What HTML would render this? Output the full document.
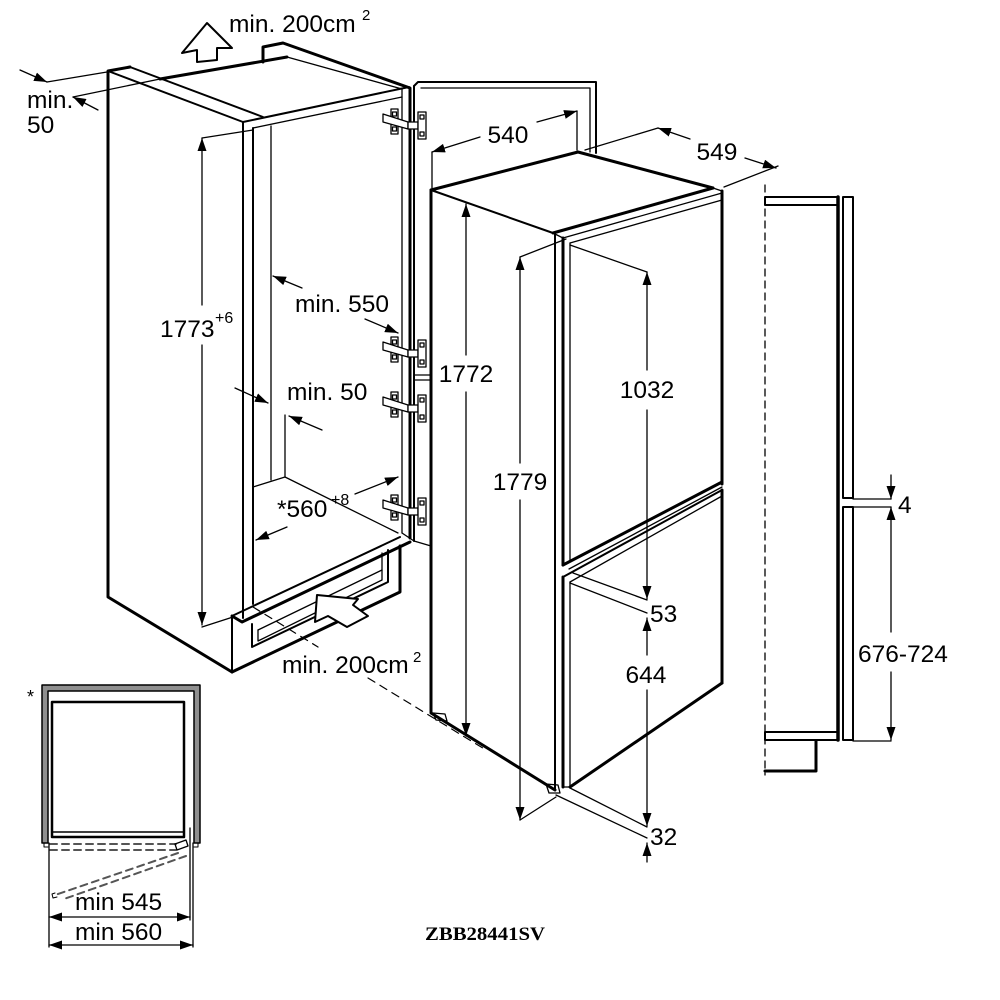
<!DOCTYPE html>
<html><head><meta charset="utf-8"><style>
html,body{margin:0;padding:0;background:#fff;}
svg{display:block}
text{font-family:"Liberation Sans",Arial,sans-serif;fill:#000;stroke:none;font-size:24.5px}
</style></head><body>
<svg width="1000" height="1000" viewBox="0 0 1000 1000" xmlns="http://www.w3.org/2000/svg">
<defs>
<marker id="ar" viewBox="0 0 13 9" refX="13" refY="4.5" markerWidth="13" markerHeight="9" markerUnits="userSpaceOnUse" orient="auto"><path d="M0,0L13,4.5L0,9z" fill="#000" stroke="none"/></marker>
<marker id="as" viewBox="0 0 13 9" refX="13" refY="4.5" markerWidth="13" markerHeight="9" markerUnits="userSpaceOnUse" orient="auto-start-reverse"><path d="M0,0L13,4.5L0,9z" fill="#000" stroke="none"/></marker>
<g id="hg" stroke="#000" stroke-width="1.3" fill="#fff">
<rect x="391" y="-13" width="7" height="25"/>
<rect x="392.5" y="-10" width="4" height="4"/>
<rect x="392.5" y="5" width="4" height="4"/>
<polygon points="383,-8 408,0 408,7 383,0"/>
<rect x="408" y="0" width="10" height="7"/>
<rect x="418" y="-10" width="8" height="27"/>
<rect x="420" y="-7" width="4" height="4"/>
<rect x="420" y="10" width="4" height="4"/>
</g>
</defs>
<rect width="1000" height="1000" fill="#fff"/>
<g fill="none" stroke="#000" stroke-linecap="round" stroke-linejoin="round">

<!-- LEFT CABINET -->
<g stroke-width="3">
<polyline points="130,67 108,71 108,597 232,672"/>
<line x1="160" y1="79" x2="287" y2="57"/>
<polyline points="263,62 263,47 283,43 410,88 410,538"/>
<polyline points="232,672 400,592 400,546"/>
<polyline points="232,616 242,622 410,542"/>
</g>
<g stroke-width="2">
<line x1="108" y1="71" x2="243" y2="122"/>
<line x1="130" y1="67" x2="263" y2="117"/>
<line x1="243" y1="122" x2="409" y2="87"/>
<line x1="243" y1="122" x2="243" y2="618"/>
<line x1="253" y1="128" x2="253" y2="604"/>
<line x1="232" y1="616" x2="232" y2="672"/>
<line x1="232" y1="616" x2="400" y2="537"/>
<polyline points="252,624 252,647 388,582 388,550"/>
<line x1="414" y1="86" x2="414" y2="541"/>
<polyline points="414,86 418,82 596,82 596,153"/>
</g>
<g stroke-width="1.3">
<line x1="253" y1="128" x2="402" y2="97"/>
<line x1="287" y1="57" x2="402" y2="89"/>
<line x1="271" y1="126" x2="271" y2="480"/>
<line x1="402" y1="89" x2="402" y2="533"/>
<polyline points="253,487 285,477 398,533"/>
<line x1="285" y1="415" x2="285" y2="477"/>
<polyline points="258,630 258,641 382,580 382,553"/>
<line x1="258" y1="630" x2="382" y2="570"/>
<polyline points="421,88 590,88 590,152"/>
<line x1="414" y1="375" x2="431" y2="375"/>
<line x1="414" y1="380" x2="431" y2="380"/>
<line x1="402" y1="533" x2="414" y2="541"/>
<line x1="414" y1="541" x2="431" y2="546"/>
</g>

<!-- hinges -->
<use href="#hg" transform="translate(0,122)"/>
<use href="#hg" transform="translate(0,350)"/>
<use href="#hg" transform="translate(0,405)"/>
<use href="#hg" transform="translate(0,508)"/>

<!-- hollow arrows -->
<polygon points="207,23 232,48 217,48 217,60 197,62 197,50 182,53" fill="#fff" stroke-width="2"/>
<polygon points="317,595 358,599 353,605 368,616 347,627 328,616 315,622" fill="#fff" stroke-width="2"/>

<!-- dashed floor line -->
<line x1="253" y1="607" x2="318" y2="647" stroke-width="1.2" stroke-dasharray="8 6"/>
<line x1="368" y1="678" x2="486" y2="750" stroke-width="1.2" stroke-dasharray="8 6"/>

<!-- FRIDGE -->
<g stroke-width="3">
<polyline points="431,190 431,713 555,790"/>
<polyline points="431,190 578,152 713,188"/>
<line x1="553" y1="233" x2="713" y2="188"/>
<line x1="722" y1="191" x2="722" y2="484"/>
<line x1="722" y1="490" x2="722" y2="683"/>
<line x1="563" y1="238" x2="563" y2="565"/>
<line x1="563" y1="565" x2="722" y2="482"/>
<line x1="563" y1="577" x2="563" y2="787"/>
<line x1="570" y1="787" x2="722" y2="683"/>
</g>
<g stroke-width="2">
<line x1="431" y1="190" x2="553" y2="233"/>
<line x1="555" y1="233" x2="555" y2="790"/>
<line x1="563" y1="577" x2="722" y2="490"/>
</g>
<g stroke-width="1.3">
<line x1="563" y1="238" x2="722" y2="193"/>
<line x1="570" y1="243" x2="722" y2="200"/>
<line x1="570" y1="243" x2="570" y2="562"/>
<line x1="569" y1="569" x2="722" y2="487"/>
<line x1="570" y1="582" x2="722" y2="496"/>
<line x1="570" y1="582" x2="570" y2="786"/>
<line x1="713" y1="188" x2="722" y2="191"/>
<line x1="553" y1="233" x2="563" y2="238"/>
<line x1="563" y1="787" x2="570" y2="787"/>
<polygon points="433,713 445,714 447,721 436,720"/>
<polygon points="546,784 558,785 560,793 549,793"/>
</g>

<!-- RIGHT SIDE VIEW -->
<line x1="765" y1="185" x2="765" y2="775" stroke-width="1.3" stroke-dasharray="7 5"/>
<rect x="765" y="197" width="73" height="8" stroke-width="2"/>
<line x1="838" y1="197" x2="838" y2="740" stroke-width="3.5"/>
<rect x="843" y="197" width="10" height="301" stroke-width="2"/>
<rect x="843" y="507" width="10" height="233" stroke-width="2"/>
<rect x="765" y="732" width="73" height="8" stroke-width="2"/>
<polyline points="765,771 816,771 816,741" stroke-width="3"/>

<!-- PLAN VIEW -->
<path d="M42,843 V685 H200 V843 H194 V691 H48 V843 Z" fill="#8f8f8f" stroke-width="1.5"/>
<rect x="52" y="702" width="132" height="135" stroke-width="2.5"/>
<line x1="52" y1="832" x2="184" y2="832" stroke-width="1.5"/>
<line x1="50" y1="844" x2="176" y2="844" stroke-width="2" stroke="#555" stroke-dasharray="7 5"/>
<line x1="50" y1="850" x2="176" y2="850" stroke-width="2" stroke="#555" stroke-dasharray="7 5"/>
<line x1="178" y1="853" x2="55" y2="895" stroke-width="2" stroke="#555" stroke-dasharray="7 5"/>
<line x1="186" y1="856" x2="64" y2="899" stroke-width="2" stroke="#555" stroke-dasharray="7 5"/>
<polygon points="175,844 186,840 188,846 177,850" stroke-width="1.3"/>
<polyline points="44,843 44,847 48,847" stroke-width="1"/>
<polyline points="198,843 198,847 194,847" stroke-width="1"/>
<polyline points="55,893 52,894 53,898 57,897" stroke-width="1"/>

<!-- DIMENSION LINES -->
<g stroke-width="1.3">
<line x1="20" y1="70" x2="47" y2="82" marker-end="url(#ar)"/>
<line x1="47" y1="82" x2="107" y2="72"/>
<line x1="73" y1="97" x2="160" y2="79"/>
<line x1="98" y1="110" x2="73" y2="97" marker-end="url(#ar)"/>

<line x1="202" y1="138" x2="253" y2="130"/>
<line x1="202" y1="305" x2="202" y2="138" marker-end="url(#ar)"/>
<line x1="202" y1="345" x2="202" y2="625" marker-end="url(#ar)"/>
<line x1="202" y1="627" x2="233" y2="617"/>

<line x1="302" y1="288" x2="273" y2="276" marker-end="url(#ar)"/>
<line x1="365" y1="319" x2="398" y2="333" marker-end="url(#ar)"/>
<line x1="235" y1="388" x2="268" y2="403" marker-end="url(#ar)"/>
<line x1="322" y1="430" x2="289" y2="416" marker-end="url(#ar)"/>
<line x1="355" y1="494" x2="398" y2="477" marker-end="url(#ar)"/>
<line x1="287" y1="527" x2="256" y2="540" marker-end="url(#ar)"/>

<line x1="432" y1="152" x2="432" y2="188"/>
<line x1="577" y1="111" x2="577" y2="150"/>
<line x1="480" y1="137" x2="432" y2="152" marker-end="url(#ar)"/>
<line x1="537" y1="122" x2="577" y2="111" marker-end="url(#ar)"/>

<line x1="585" y1="150" x2="658" y2="128"/>
<line x1="690" y1="139" x2="658" y2="128" marker-end="url(#ar)"/>
<line x1="745" y1="158" x2="776" y2="168" marker-end="url(#ar)"/>
<line x1="724" y1="187" x2="778" y2="166"/>

<line x1="466" y1="355" x2="466" y2="204" marker-end="url(#ar)"/>
<line x1="466" y1="392" x2="466" y2="736" marker-end="url(#ar)"/>

<line x1="520" y1="257" x2="566" y2="239"/>
<line x1="520" y1="463" x2="520" y2="257" marker-end="url(#ar)"/>
<line x1="520" y1="500" x2="520" y2="820" marker-end="url(#ar)"/>
<line x1="520" y1="820" x2="556" y2="797"/>

<line x1="647" y1="272" x2="570" y2="245"/>
<line x1="647" y1="370" x2="647" y2="272" marker-end="url(#ar)"/>
<line x1="647" y1="410" x2="647" y2="599" marker-end="url(#ar)"/>
<line x1="573" y1="573" x2="647" y2="600"/>
<line x1="570" y1="583" x2="647" y2="613"/>
<line x1="647" y1="655" x2="647" y2="618" marker-end="url(#ar)"/>
<line x1="647" y1="690" x2="647" y2="826" marker-end="url(#ar)"/>
<line x1="570" y1="788" x2="647" y2="827"/>
<line x1="556" y1="795" x2="647" y2="838"/>
<line x1="647" y1="862" x2="647" y2="843" marker-end="url(#ar)"/>

<line x1="891" y1="475" x2="891" y2="499" marker-end="url(#ar)"/>
<line x1="853" y1="499" x2="891" y2="499"/>
<line x1="853" y1="507" x2="891" y2="507"/>
<line x1="891" y1="632" x2="891" y2="507" marker-end="url(#ar)"/>
<line x1="891" y1="672" x2="891" y2="740" marker-end="url(#ar)"/>
<line x1="853" y1="741" x2="891" y2="741"/>

<line x1="49" y1="843" x2="49" y2="947"/>
<line x1="193" y1="843" x2="193" y2="947"/>
<line x1="190" y1="828" x2="190" y2="920"/>
<line x1="49" y1="917" x2="190" y2="917" marker-start="url(#as)" marker-end="url(#as)"/>
<line x1="49" y1="945" x2="193" y2="945" marker-start="url(#as)" marker-end="url(#as)"/>
</g>
</g>

<!-- TEXT -->
<text x="229" y="32" font-size="25">min. 200cm</text>
<text x="362" y="20" style="font-size:15px">2</text>
<text x="27" y="108">min.</text>
<text x="27" y="133">50</text>
<text x="160" y="337">1773</text>
<text x="215" y="323" style="font-size:16px">+6</text>
<text x="295" y="312">min. 550</text>
<text x="287" y="400">min. 50</text>
<text x="277" y="517">*560</text>
<text x="331" y="505" style="font-size:16px">+8</text>
<text x="282" y="673">min. 200cm</text>
<text x="413" y="662" style="font-size:15px">2</text>
<text x="508" y="143" text-anchor="middle">540</text>
<text x="717" y="160" text-anchor="middle">549</text>
<text x="466" y="382" text-anchor="middle">1772</text>
<text x="647" y="398" text-anchor="middle">1032</text>
<text x="520" y="490" text-anchor="middle">1779</text>
<text x="650" y="622">53</text>
<text x="646" y="683" text-anchor="middle">644</text>
<text x="650" y="845">32</text>
<text x="898" y="513">4</text>
<text x="858" y="662">676-724</text>
<text x="75" y="910">min 545</text>
<text x="75" y="940">min 560</text>
<text x="27" y="703" style="font-size:18px">*</text>
<text x="425" y="940" style="font-family:'Liberation Serif',serif;font-weight:bold;font-size:19px" textLength="120" lengthAdjust="spacingAndGlyphs">ZBB28441SV</text>
</svg>
</body></html>
